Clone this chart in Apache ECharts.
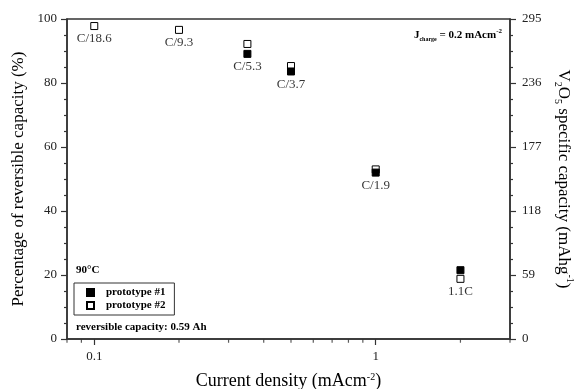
<!DOCTYPE html>
<html>
<head>
<meta charset="utf-8">
<script src="https://cdn.jsdelivr.net/npm/echarts@6/dist/echarts.min.js"></script>
<style>
html, body { margin: 0; padding: 0; background: #fff; }
#chart { width: 578px; height: 389px; }
</style>
</head>
<body>
<div id="chart"></div>
<script>
var currentDensity = [0.1, 0.2, 0.35, 0.5, 1.0, 2.0];
var rateLabels = ['C/18.6', 'C/9.3', 'C/5.3', 'C/3.7', 'C/1.9', '1.1C'];
var prototype1 = [null, null, 89.1, 83.6, 52.0, 21.5];
var prototype2 = [97.8, 96.6, 92.2, 85.3, 53.0, 18.8];
var xMinorTicks = [0.08, 0.09, 0.2, 0.3, 0.4, 0.5, 0.6, 0.7, 0.8, 0.9, 2, 3];

var serif = '"Liberation Serif", "Times New Roman", serif';
var axisColor = '#333';

function pairs(ys) {
    var out = [];
    for (var i = 0; i < ys.length; i++) {
        if (ys[i] != null) out.push([currentDensity[i], ys[i]]);
    }
    return out;
}

// labels sit under the lower of the two markers
var labelData = currentDensity.map(function (x, i) {
    var ys = [prototype1[i], prototype2[i]].filter(function (v) { return v != null; });
    return { name: rateLabels[i], value: [x, Math.min.apply(null, ys)] };
});

var myChart = echarts.init(document.getElementById('chart'));

var option = {
    animation: false,
    grid: {
        left: 67, right: 68, top: 19, bottom: 50,
        outerBoundsMode: 'none',
        containLabel: false,
        show: true, borderColor: axisColor, borderWidth: 1.5
    },
    legend: {
        data: ['prototype #1', 'prototype #2'],
        orient: 'vertical',
        left: 74, top: 283,
        itemWidth: 7, itemHeight: 7, itemGap: 2,
        padding: [4, 9, 4, 12],
        borderColor: axisColor, borderWidth: 1,
        textStyle: { fontFamily: serif, fontWeight: 'bold', fontSize: 11, color: '#000', padding: [0, 0, 0, 7] }
    },
    xAxis: {
        type: 'log',
        min: 0.08, max: 3,
        name: 'Current density (mAcm{sup|-2})',
        nameLocation: 'middle',
        nameGap: 33,
        nameTextStyle: {
            fontFamily: serif, fontSize: 18, color: '#000',
            rich: { sup: { fontFamily: serif, fontSize: 10, verticalAlign: 'top', color: '#000' } }
        },
        axisLine: { lineStyle: { color: axisColor, width: 1.5 } },
        axisTick: { inside: false, length: 6, lineStyle: { color: axisColor, width: 1.2 } },
        axisLabel: { showMinLabel: false, showMaxLabel: false, margin: 11, fontFamily: serif, fontSize: 13, color: '#222' },
        splitLine: { show: false }
    },
    yAxis: [{
        type: 'value',
        min: 0, max: 100, interval: 20,
        name: 'Percentage of reversible capacity (%)',
        nameLocation: 'middle',
        nameRotate: 90,
        nameGap: 32,
        nameTextStyle: { fontFamily: serif, fontSize: 17, color: '#000' },
        axisLine: { show: true, lineStyle: { color: axisColor, width: 1.5 } },
        axisTick: { inside: false, length: 6, lineStyle: { color: axisColor, width: 1.2 } },
        minorTick: { show: true, splitNumber: 4, length: 3, lineStyle: { color: axisColor, width: 1.2 } },
        axisLabel: { margin: 10, fontFamily: serif, fontSize: 13, color: '#222' },
        splitLine: { show: false }
    }, {
        type: 'value',
        position: 'right',
        min: 0, max: 295, interval: 59,
        name: 'V{sub|2}O{sub|5} specific capacity (mAhg{sup|-1})',
        nameLocation: 'middle',
        nameRotate: -90,
        nameGap: 38,
        nameTextStyle: {
            fontFamily: serif, fontSize: 17, color: '#000', lineHeight: 22,
            rich: {
                sub: { fontFamily: serif, fontSize: 10, verticalAlign: 'bottom', color: '#000', lineHeight: 22 },
                sup: { fontFamily: serif, fontSize: 10, verticalAlign: 'top', color: '#000', lineHeight: 22 }
            }
        },
        axisLine: { show: true, lineStyle: { color: axisColor, width: 1.5 } },
        axisTick: { inside: false, length: 6, lineStyle: { color: axisColor, width: 1.2 } },
        minorTick: { show: true, splitNumber: 4, length: 3, lineStyle: { color: axisColor, width: 1.2 } },
        axisLabel: { margin: 12, fontFamily: serif, fontSize: 13, color: '#222' },
        splitLine: { show: false }
    }],
    graphic: [{
        type: 'text', left: 76, top: 265,
        style: { text: '90°C', font: 'bold 11px ' + serif, fill: '#000' }
    }, {
        type: 'text', left: 76, top: 322,
        style: { text: 'reversible capacity: 0.59 Ah', font: 'bold 11px ' + serif, fill: '#000' }
    }, {
        type: 'text', right: 76, top: 28,
        style: {
            text: '{b|J}{s|charge}{b| = 0.2 mAcm}{p|-2}',
            rich: {
                b: { fontFamily: serif, fontWeight: 'bold', fontSize: 11, fill: '#000', lineHeight: 14 },
                s: { fontFamily: serif, fontWeight: 'bold', fontSize: 6, fill: '#000', verticalAlign: 'bottom', lineHeight: 14 },
                p: { fontFamily: serif, fontWeight: 'bold', fontSize: 7, fill: '#000', verticalAlign: 'top', lineHeight: 14 }
            }
        }
    }],
    series: [{
        name: 'prototype #2',
        type: 'scatter',
        symbol: 'rect',
        symbolSize: 7,
        itemStyle: { color: '#fff', borderColor: '#000', borderWidth: 1, opacity: 1 },
        data: pairs(prototype2),
        z: 3
    }, {
        name: 'prototype #1',
        type: 'scatter',
        symbol: 'rect',
        symbolSize: 7,
        itemStyle: { color: '#000', borderColor: '#000', borderWidth: 1, opacity: 1 },
        data: pairs(prototype1),
        z: 4
    }, {
        name: 'labels',
        type: 'scatter',
        symbolSize: 7,
        silent: true,
        itemStyle: { color: 'rgba(0,0,0,0)' },
        label: {
            show: true, position: 'bottom', distance: 3,
            formatter: function (p) { return p.name; },
            fontFamily: serif, fontSize: 13, color: '#000'
        },
        data: labelData,
        z: 2
    }, {
        // minor ticks of the log x axis, hung below the axis line
        name: 'minorTicks',
        type: 'scatter',
        silent: true,
        clip: false,
        symbol: 'rect',
        symbolSize: [1.2, 3.5],
        symbolOffset: [0, 2],
        itemStyle: { color: axisColor },
        data: xMinorTicks.map(function (v) { return [v, 0]; }),
        z: 5
    }]
};

myChart.setOption(option);
</script>
</body>
</html>
